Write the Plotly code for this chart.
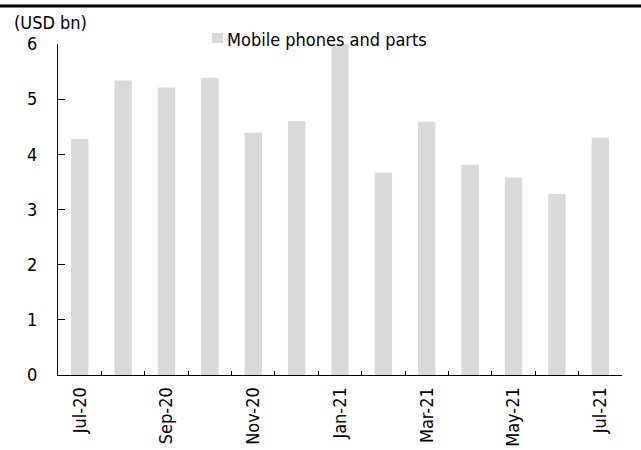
import plotly.graph_objects as go

# Monthly exports of mobile phones and parts, USD bn
months = ["Jul-20", "Aug-20", "Sep-20", "Oct-20", "Nov-20", "Dec-20", "Jan-21",
          "Feb-21", "Mar-21", "Apr-21", "May-21", "Jun-21", "Jul-21"]
values = [4.28, 5.34, 5.21, 5.39, 4.39, 4.60, 6.00, 3.67, 4.59, 3.81, 3.58, 3.28, 4.30]
tick_labels = [m if i % 2 == 0 else "" for i, m in enumerate(months)]
y_ticks = [0, 1, 2, 3, 4, 5, 6]
series_name = "Mobile phones and parts"
unit_label = "(USD bn)"

FONT = "DejaVu Sans Condensed, DejaVu Sans, sans-serif"
FS = 18
BAR_COLOR = "#d9d9d9"

W, H = 641, 450
L, R, T, B = 58, 19, 44, 75
PW, PH = W - L - R, H - T - B


def px_x(px):
    """Pixel column -> paper x."""
    return (px - L) / PW


def px_y(py):
    """Pixel row -> paper y."""
    return (H - B - py) / PH


fig = go.Figure()
fig.add_trace(go.Bar(
    x=months, y=values, name=series_name,
    marker=dict(color=BAR_COLOR, line=dict(width=0)),
    width=0.4, showlegend=False,
))

fig.update_layout(
    width=W, height=H,
    margin=dict(l=L, r=R, t=T, b=B, autoexpand=False),
    paper_bgcolor="white", plot_bgcolor="white",
    font=dict(family=FONT, size=FS, color="black"),
    showlegend=False,
)

fig.update_xaxes(
    type="category", tickvals=months, ticktext=tick_labels, tickangle=-90,
    tickson="boundaries", ticks="inside", ticklen=4, tickcolor="black", tickwidth=1,
    showline=True, linecolor="black", linewidth=1, showgrid=False, automargin=False,
    tickfont=dict(family=FONT, size=FS, color="black"), ticklabelstandoff=4,
)
fig.update_yaxes(
    range=[0, 6], tickvals=y_ticks, ticks="inside", ticklen=7, tickcolor="black", tickwidth=1,
    showline=True, linecolor="black", linewidth=1, showgrid=False, zeroline=False,
    automargin=False,
    tickfont=dict(family=FONT, size=FS, color="black"), ticklabelstandoff=16,
)

# Legend: swatch plus series name
fig.add_shape(
    type="rect", xref="paper", yref="paper",
    x0=px_x(212), x1=px_x(223), y0=px_y(43), y1=px_y(33),
    fillcolor=BAR_COLOR, line=dict(width=0),
)
fig.add_annotation(
    text=series_name, xref="paper", yref="paper", x=px_x(225), y=px_y(39),
    xanchor="left", yanchor="middle", showarrow=False,
    font=dict(family=FONT, size=FS, color="black"),
)

# Unit label above the value axis
fig.add_annotation(
    text=unit_label, xref="paper", yref="paper", x=px_x(12), y=px_y(23),
    xanchor="left", yanchor="middle", showarrow=False,
    font=dict(family=FONT, size=FS, color="black"),
)

# Heavy rule across the top of the chart
fig.add_shape(
    type="line", xref="paper", yref="paper",
    x0=px_x(0), x1=px_x(W), y0=px_y(6), y1=px_y(6),
    line=dict(color="black", width=3),
)

fig.write_html("out.html")
